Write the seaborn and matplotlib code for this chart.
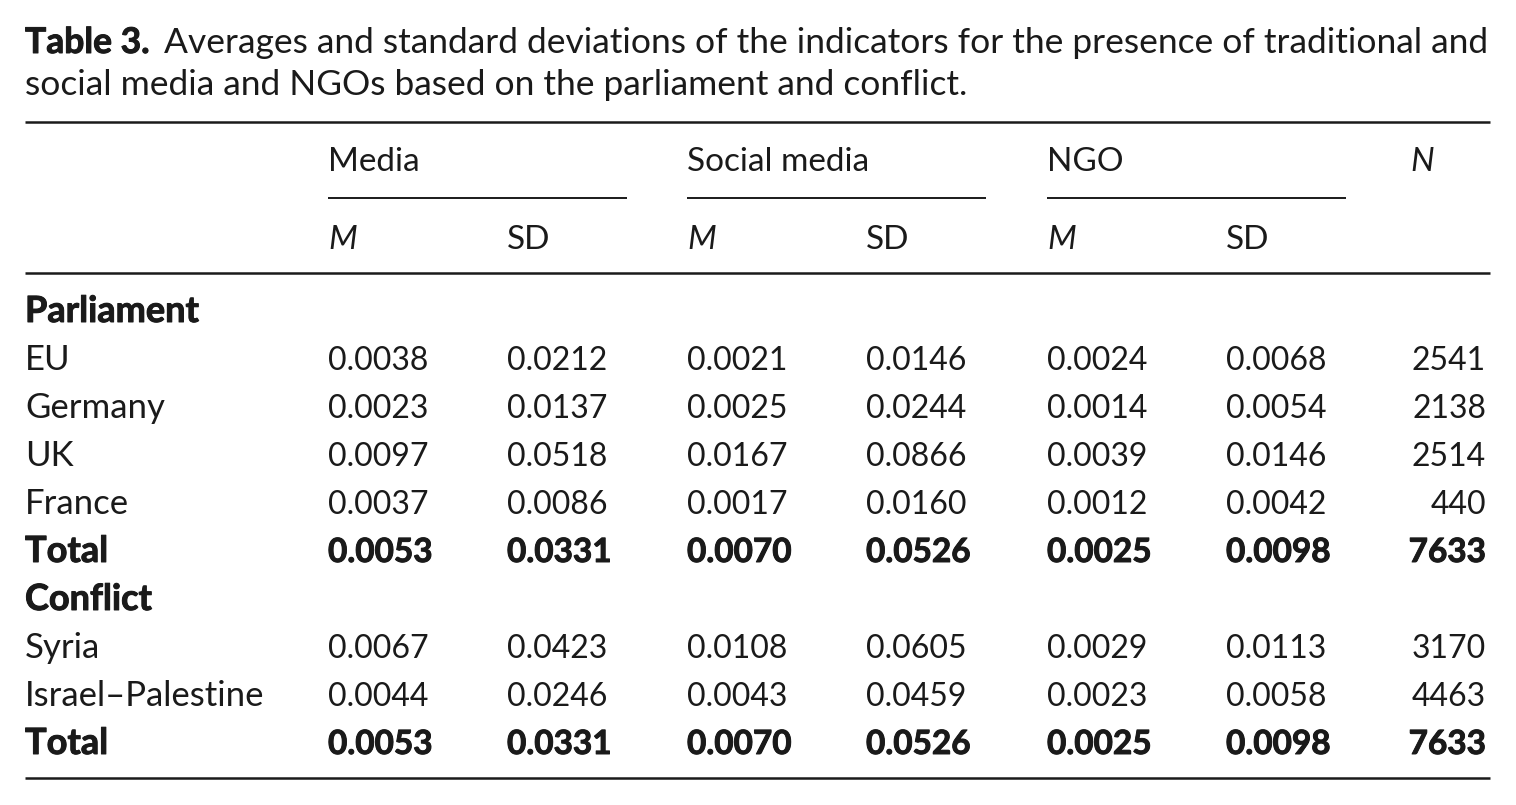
import matplotlib
matplotlib.use("Agg")
import matplotlib.pyplot as plt
import matplotlib.patheffects as pe
import seaborn as sns
import pandas as pd

# ── data ──────────────────────────────────────────────────────────────────────
row_labels = ["Parliament", "EU", "Germany", "UK", "France", "Total",
              "Conflict", "Syria", "Israel\u2013Palestine", "Total"]
row_kind = ["section", "row", "row", "row", "row", "total",
            "section", "row", "row", "total"]
media_m = [None, 0.0038, 0.0023, 0.0097, 0.0037, 0.0053,
           None, 0.0067, 0.0044, 0.0053]
media_sd = [None, 0.0212, 0.0137, 0.0518, 0.0086, 0.0331,
            None, 0.0423, 0.0246, 0.0331]
social_m = [None, 0.0021, 0.0025, 0.0167, 0.0017, 0.0070,
            None, 0.0108, 0.0043, 0.0070]
social_sd = [None, 0.0146, 0.0244, 0.0866, 0.0160, 0.0526,
             None, 0.0605, 0.0459, 0.0526]
ngo_m = [None, 0.0024, 0.0014, 0.0039, 0.0012, 0.0025,
         None, 0.0029, 0.0023, 0.0025]
ngo_sd = [None, 0.0068, 0.0054, 0.0146, 0.0042, 0.0098,
          None, 0.0113, 0.0058, 0.0098]
n_obs = [None, 2541, 2138, 2514, 440, 7633, None, 3170, 4463, 7633]

groups = ["Media", "Social media", "NGO"]
sub_headers = ["M", "SD"]
title_bold = "Table 3."
title_line1 = "Averages and standard deviations of the indicators for the presence of traditional and"
title_line2 = "social media and NGOs based on the parliament and conflict."

table = pd.DataFrame({
    "label": row_labels, "kind": row_kind,
    "media_m": media_m, "media_sd": media_sd,
    "social_m": social_m, "social_sd": social_sd,
    "ngo_m": ngo_m, "ngo_sd": ngo_sd, "n": n_obs,
})
value_cols = ["media_m", "media_sd", "social_m", "social_sd", "ngo_m", "ngo_sd"]

# ── style ─────────────────────────────────────────────────────────────────────
sns.set_theme(style="white")
plt.rcParams["font.family"] = ["Lato", "DejaVu Sans"]
FS_TITLE = 25.5
FS_LABEL = 25
FS_BOLD_LABEL = 26
FS_HEAD = 24
FS_NUM = 23
FS_BOLD_NUM = 24
INK = "#1a1a1a"
heavy = [pe.withStroke(linewidth=0.7, foreground=INK)]

fig = plt.figure(figsize=(15.16, 8.05), dpi=100)
ax = fig.add_axes([0, 0, 1, 1])
ax.set_xlim(0, 1516)
ax.set_ylim(805, 0)
ax.axis("off")

# layout (pixels)
x_label = 25
col_x = [328, 507, 687, 866, 1047, 1226]
x_n_right = 1486
rule_left, rule_right = 25, 1490
row_y0, row_step = 322, 48

# ── title ─────────────────────────────────────────────────────────────────────
t = ax.text(x_label, 53, title_bold, fontsize=FS_TITLE, fontweight="bold",
            color=INK, va="baseline", ha="left", path_effects=heavy)
fig.canvas.draw()
bb = t.get_window_extent(fig.canvas.get_renderer())
ax.text(bb.x1 + 14, 53, title_line1, fontsize=FS_TITLE, color=INK,
        va="baseline", ha="left")
ax.text(x_label, 95, title_line2, fontsize=FS_TITLE, color=INK,
        va="baseline", ha="left")

# ── rules ─────────────────────────────────────────────────────────────────────
for y in (122, 273, 778):
    ax.hlines(y, rule_left, rule_right, color=INK, lw=1.8)
for i, g in enumerate(groups):
    x0 = col_x[2 * i]
    ax.hlines(198, x0, x0 + 299, color=INK, lw=1.4)
    ax.text(x0, 171, g, fontsize=FS_HEAD, color=INK, va="baseline", ha="left")
    ax.text(x0, 249, sub_headers[0], fontsize=FS_HEAD, color=INK, style="italic",
            va="baseline", ha="left")
    ax.text(col_x[2 * i + 1], 249, sub_headers[1], fontsize=FS_HEAD, color=INK,
            va="baseline", ha="left")
ax.text(1410, 171, "N", fontsize=FS_HEAD, color=INK, style="italic",
        va="baseline", ha="left")

# ── body ──────────────────────────────────────────────────────────────────────
for i, row in table.iterrows():
    y = row_y0 + i * row_step
    is_bold = row["kind"] != "row"
    label_kw = dict(fontsize=FS_BOLD_LABEL if is_bold else FS_LABEL,
                    fontweight="bold" if is_bold else "normal",
                    path_effects=heavy if is_bold else None)
    num_kw = dict(fontsize=FS_BOLD_NUM if is_bold else FS_NUM,
                  fontweight="bold" if is_bold else "normal",
                  path_effects=heavy if is_bold else None)
    ax.text(x_label, y, row["label"], color=INK, va="baseline", ha="left",
            **label_kw)
    if row["kind"] == "section":
        continue
    for cx, col in zip(col_x, value_cols):
        ax.text(cx, y, f"{row[col]:.4f}", color=INK, va="baseline", ha="left",
                **num_kw)
    ax.text(x_n_right, y, f"{int(row['n'])}", color=INK, va="baseline",
            ha="right", **num_kw)

fig.savefig("out.png", dpi=100, facecolor="white")
